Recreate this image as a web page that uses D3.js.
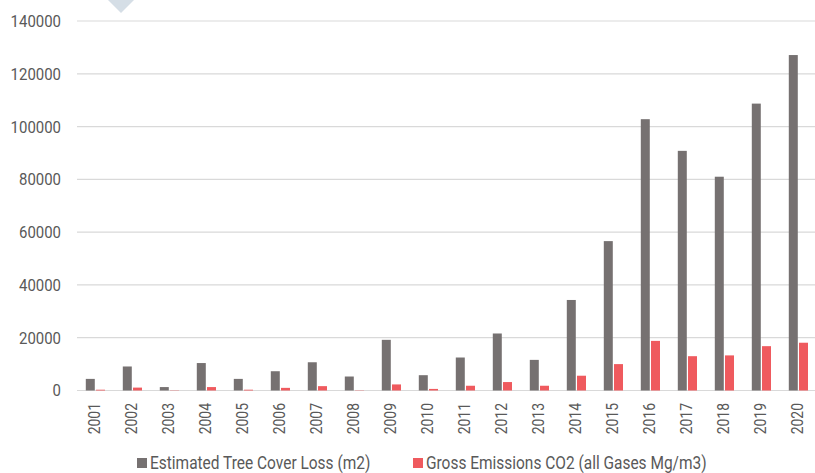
<!DOCTYPE html>
<html>
<head>
<meta charset="utf-8">
<script src="https://cdn.jsdelivr.net/npm/d3@7"></script>
<style>
  body { margin: 0; background: #fff; }
  svg text { font-family: Roboto, "Noto Sans", sans-serif; fill: #595959; }
</style>
</head>
<body>
<div id="chart"></div>
<script>
// chart data
var years = ["2001","2002","2003","2004","2005","2006","2007","2008","2009","2010",
             "2011","2012","2013","2014","2015","2016","2017","2018","2019","2020"];
var treeLoss = [4400, 9100, 1300, 10400, 4400, 7300, 10700, 5300, 19200, 5800,
                12500, 21600, 11600, 34300, 56600, 102800, 90800, 81000, 108700, 127100];
var emissions = [300, 1100, 100, 1300, 300, 1000, 1650, 100, 2300, 600,
                 1800, 3200, 1800, 5600, 10000, 18800, 13000, 13300, 16800, 18100];
var yTicks = [0, 20000, 40000, 60000, 80000, 100000, 120000, 140000];
var seriesNames = ["Estimated Tree Cover Loss (m2)", "Gross Emissions CO2 (all Gases Mg/m3)"];
var seriesColors = ["#767171", "#ef5a5e"];

var svgWidth = 815;
var svgHeight = 473;

var svg = d3.select("#chart")
  .append("svg")
  .attr("width", svgWidth)
  .attr("height", svgHeight);

// decoration cut off at the top
svg.append("polygon")
  .attr("points", "108,0 134,0 121,13")
  .attr("fill", "#d5dee6");

// scales
var xScale = d3.scaleBand()
  .domain(years)
  .range([76.5, 816.5]);

var xInner = d3.scaleBand()
  .domain([0, 1])
  .range([9.3, 28.5])
  .paddingInner(0.12);

var yScale = d3.scaleLinear()
  .domain([0, 140000])
  .range([390.5, 21]);

// gridlines
svg.append("g")
  .selectAll("line")
  .data(yTicks)
  .enter()
  .append("line")
  .attr("x1", 77)
  .attr("x2", 815)
  .attr("y1", d => yScale(d))
  .attr("y2", d => yScale(d))
  .attr("stroke", "#d9d9d9")
  .attr("stroke-width", 1.2);

// y axis labels
var yAxis = d3.axisLeft(yScale).tickValues(yTicks).tickSize(0).tickPadding(0).tickFormat(d3.format("d"));
var yAxisG = svg.append("g")
  .attr("transform", "translate(61,0)")
  .call(yAxis);
yAxisG.select(".domain").remove();
yAxisG.selectAll("text")
  .style("font-size", "17px")
  .attr("fill", "#595959")
  .attr("transform", "scale(0.88,1)");

// bars
var groups = svg.append("g")
  .selectAll("g")
  .data(years)
  .enter()
  .append("g")
  .attr("transform", d => `translate(${xScale(d)},0)`);

groups.append("rect")
  .attr("x", xInner(0))
  .attr("width", xInner.bandwidth())
  .attr("y", (d, i) => yScale(treeLoss[i]))
  .attr("height", (d, i) => yScale(0) - yScale(treeLoss[i]))
  .attr("fill", seriesColors[0]);

groups.append("rect")
  .attr("x", xInner(1))
  .attr("width", xInner.bandwidth())
  .attr("y", (d, i) => yScale(emissions[i]))
  .attr("height", (d, i) => yScale(0) - yScale(emissions[i]))
  .attr("fill", seriesColors[1]);

// x axis labels (rotated)
var xAxis = d3.axisBottom(xScale).tickSize(0).tickPadding(0);
var xAxisG = svg.append("g")
  .attr("transform", "translate(0,391)")
  .call(xAxis);
xAxisG.select(".domain").remove();
xAxisG.selectAll("text")
  .style("font-size", "16px")
  .attr("fill", "#595959")
  .attr("text-anchor", "end")
  .attr("dy", null)
  .attr("y", 0)
  .attr("dominant-baseline", "central")
  .attr("transform", "translate(0,12) rotate(-90) scale(0.87,1)");

// legend
var legendX = [137, 413];
var legend = svg.append("g")
  .selectAll("g")
  .data(seriesNames)
  .enter()
  .append("g")
  .attr("transform", (d, i) => `translate(${legendX[i]},458)`);

legend.append("rect")
  .attr("width", 10)
  .attr("height", 10)
  .attr("fill", (d, i) => seriesColors[i]);

legend.append("text")
  .attr("x", 0)
  .attr("y", 10.5)
  .style("font-size", "18px")
  .attr("transform", "translate(13,0) scale(0.86,1)")
  .text(d => d);
</script>
</body>
</html>
